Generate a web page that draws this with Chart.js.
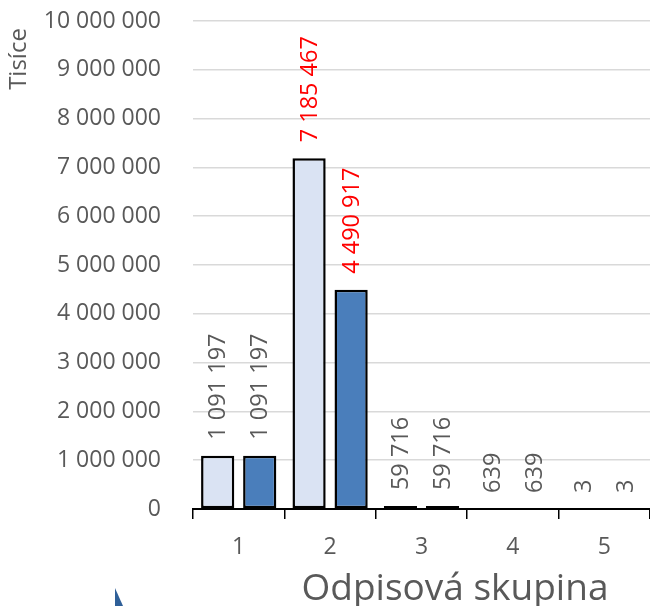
<!DOCTYPE html>
<html>
<head>
<meta charset="utf-8">
<script src="https://cdn.jsdelivr.net/npm/chart.js@4/dist/chart.umd.min.js"></script>
<style>
    html,body{margin:0;padding:0;background:#fff;}
    #wrap{width:650px;height:606px;}
</style>
</head>
<body>
<div id="wrap"><canvas id="chart" width="650" height="606"></canvas></div>
<script>
const categories = ['1', '2', '3', '4', '5'];
const seriesLight = [1091197, 7185467, 59716, 639, 3];
const seriesDark = [1091197, 4490917, 59716, 639, 3];
const labelColors = ['#595959', '#ff0000', '#595959', '#595959', '#595959'];
const yMax = 10000000;
const yStep = 1000000;
const yTitle = 'Tisíce';
const xTitle = 'Odpisová skupina';

const FONT = "'Open Sans', sans-serif";
const GRAY = '#595959';

function fmt(v){
    return String(v).replace(/\B(?=(\d{3})+(?!\d))/g, ' ');
}

// labels above bars, turned by 90 degrees
const barLabels = {
    id: 'barLabels',
    afterDatasetsDraw(chart){
        const ctx = chart.ctx;
        ctx.save();
        ctx.font = '23.5px ' + FONT;
        ctx.textAlign = 'left';
        ctx.textBaseline = 'middle';
        chart.data.datasets.forEach((ds, di) => {
            chart.getDatasetMeta(di).data.forEach((bar, i) => {
                ctx.save();
                ctx.translate(bar.x, bar.y - 16);
                ctx.rotate(-Math.PI / 2);
                ctx.fillStyle = labelColors[i];
                ctx.fillText(fmt(ds.data[i]), 0, 1);
                ctx.restore();
            });
        });
        ctx.restore();
    }
};

const titles = {
    id: 'titles',
    afterDraw(chart){
        const ctx = chart.ctx;
        ctx.save();
        ctx.fillStyle = GRAY;
        ctx.textAlign = 'center';
        ctx.textBaseline = 'middle';
        ctx.font = '24px ' + FONT;
        ctx.save();
        ctx.translate(19, 59);
        ctx.rotate(-Math.PI / 2);
        ctx.fillText(yTitle, 0, 0);
        ctx.restore();
        ctx.font = '37px ' + FONT;
        ctx.fillText(xTitle, 455, 589);
        // small blue piece in the lower left corner
        ctx.fillStyle = '#2f5f98';
        ctx.beginPath();
        ctx.moveTo(115, 588);
        ctx.lineTo(123, 606);
        ctx.lineTo(115, 606);
        ctx.closePath();
        ctx.fill();
        ctx.restore();
    }
};

new Chart(document.getElementById('chart'), {
    type: 'bar',
    data: {
        labels: categories,
        datasets: [
            {
                data: seriesLight,
                backgroundColor: '#dae3f3',
                borderColor: '#000000',
                borderWidth: 2.5,
                borderSkipped: false,
                categoryPercentage: 0.92,
                barPercentage: 0.79
            },
            {
                data: seriesDark,
                backgroundColor: '#4a7ebb',
                borderColor: '#000000',
                borderWidth: 2.5,
                borderSkipped: false,
                categoryPercentage: 0.92,
                barPercentage: 0.79
            }
        ]
    },
    options: {
        responsive: false,
        animation: false,
        devicePixelRatio: 1,
        layout: {padding: {top: 21, left: 0, right: 0, bottom: 0}},
        plugins: {
            legend: {display: false},
            tooltip: {enabled: false}
        },
        scales: {
            x: {
                offset: true,
                grid: {
                    display: true,
                    drawOnChartArea: false,
                    drawTicks: true,
                    tickLength: 10,
                    color: '#000000',
                    lineWidth: 1.5
                },
                border: {display: true, color: '#000000', width: 2},
                ticks: {color: GRAY, font: {family: FONT, size: 23}, padding: 15},
                afterFit(scale){ scale.height = 97; }
            },
            y: {
                min: 0,
                max: yMax,
                grid: {color: '#d9d9d9', lineWidth: 1.5, drawTicks: false},
                border: {display: false},
                ticks: {
                    stepSize: yStep,
                    color: GRAY,
                    font: {family: FONT, size: 23},
                    padding: 32,
                    callback: v => fmt(v)
                },
                afterFit(scale){
                    scale.width = 193;
                    scale.paddingTop = 0;
                    scale.paddingBottom = 0;
                }
            }
        }
    },
    plugins: [barLabels, titles]
});
</script>
</body>
</html>
